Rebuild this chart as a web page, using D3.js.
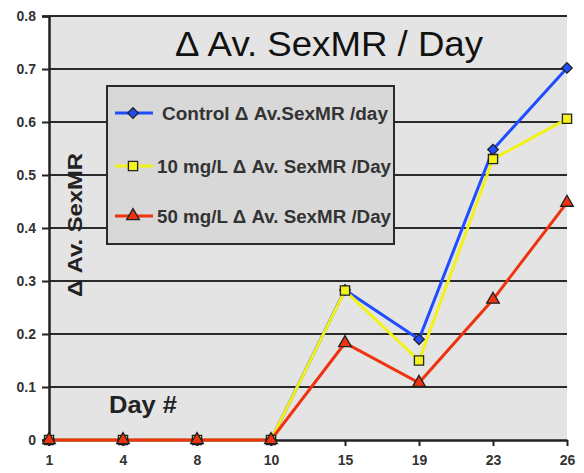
<!DOCTYPE html>
<html>
<head>
<meta charset="utf-8">
<script src="https://cdn.jsdelivr.net/npm/d3@7"></script>
<style>
  body { margin: 0; background: #fff; }
  svg { display: block; font-family: 'Liberation Sans', Arial, sans-serif; }
</style>
</head>
<body>
<svg width="584" height="473"></svg>
<script>
// data
const days = ['1', '4', '8', '10', '15', '19', '23', '26'];
const control = [0, 0, 0, 0, 0.283, 0.19, 0.548, 0.702];
const mg10 = [0, 0, 0, 0, 0.282, 0.15, 0.53, 0.606];
const mg50 = [0, 0, 0, 0, 0.183, 0.108, 0.265, 0.448];
const yTicks = [0, 0.1, 0.2, 0.3, 0.4, 0.5, 0.6, 0.7, 0.8];

const series = [
  { name: 'Control \u0394 Av.SexMR /day', values: control, color: '#1f4dff', marker: 'diamond' },
  { name: '10 mg/L \u0394 Av. SexMR /Day', values: mg10, color: '#f2f21a', marker: 'square' },
  { name: '50 mg/L \u0394 Av. SexMR /Day', values: mg50, color: '#ee3311', marker: 'triangle' },
];

const svg = d3.select('svg');
const plotLeft = 49, plotRight = 567, plotTop = 16, plotBottom = 440;

const x = d3.scalePoint().domain(days).range([plotLeft, plotRight]).padding(0);
const y = d3.scaleLinear().domain([0, 0.8]).range([plotBottom, plotTop]);

// plot background
svg.append('rect')
  .attr('x', plotLeft).attr('y', plotTop)
  .attr('width', plotRight - plotLeft).attr('height', plotBottom - plotTop)
  .attr('fill', '#e4e4e4');

// gridlines
svg.append('g').selectAll('line')
  .data(yTicks.filter(d => d > 0))
  .join('line')
  .attr('x1', plotLeft).attr('x2', plotRight)
  .attr('y1', d => y(d)).attr('y2', d => y(d))
  .attr('stroke', '#2a2a2a').attr('stroke-width', 2);

// axes
const yAxis = d3.axisLeft(y).tickValues(yTicks)
  .tickFormat(d => d === 0 ? '0' : d3.format('.1f')(d))
  .tickSize(7).tickPadding(6);
const yg = svg.append('g').attr('transform', `translate(${plotLeft},0)`).call(yAxis);
yg.select('.domain').attr('stroke', '#222').attr('stroke-width', 2.5);
yg.selectAll('.tick line').attr('stroke', '#222').attr('stroke-width', 2);
yg.selectAll('.tick text')
  .attr('font-size', 14).attr('font-weight', 'bold').attr('fill', '#333')
  .attr('font-family', "'Liberation Sans', Arial, sans-serif");

const xAxis = d3.axisBottom(x).tickSize(6).tickSizeOuter(0).tickPadding(9);
const xg = svg.append('g').attr('transform', `translate(0,${plotBottom})`).call(xAxis);
xg.select('.domain').attr('stroke', '#222').attr('stroke-width', 2.5);
xg.selectAll('.tick line').attr('stroke', '#222').attr('stroke-width', 2);
xg.selectAll('.tick text')
  .attr('font-size', 14).attr('font-weight', 'bold').attr('fill', '#333')
  .attr('font-family', "'Liberation Sans', Arial, sans-serif");

// diamond = square turned 45deg, like the original
const symbolFor = m => m === 'triangle' ? d3.symbolTriangle : d3.symbolSquare;
const sizeFor = m => m === 'diamond' ? 55 : m === 'square' ? 85 : 70;
const rotFor = m => m === 'diamond' ? ' rotate(45)' : '';

// lines + markers
const line = d3.line().x((d, i) => x(days[i])).y(d => y(d));
series.forEach(s => {
  svg.append('path')
    .datum(s.values)
    .attr('d', line)
    .attr('fill', 'none')
    .attr('stroke', s.color)
    .attr('stroke-width', 3);
});
series.forEach(s => {
  svg.append('g').selectAll('path')
    .data(s.values)
    .join('path')
    .attr('transform', (d, i) => `translate(${x(days[i])},${y(d)})${rotFor(s.marker)}`)
    .attr('d', d3.symbol().type(symbolFor(s.marker)).size(sizeFor(s.marker)))
    .attr('fill', s.color)
    .attr('stroke', '#222')
    .attr('stroke-width', 1.3);
});

// title
svg.append('text')
  .attr('x', 329).attr('y', 56)
  .attr('text-anchor', 'middle')
  .attr('font-size', 35)
  .attr('textLength', 308).attr('lengthAdjust', 'spacingAndGlyphs')
  .attr('fill', '#111')
  .text('\u0394 Av. SexMR / Day');

// axis labels
svg.append('text')
  .attr('transform', 'translate(82,225) rotate(-90)')
  .attr('text-anchor', 'middle')
  .attr('font-size', 21).attr('font-weight', 'bold').attr('fill', '#222')
  .attr('textLength', 144).attr('lengthAdjust', 'spacingAndGlyphs')
  .text('\u0394 Av. SexMR');
svg.append('text')
  .attr('x', 109).attr('y', 413)
  .attr('font-size', 24).attr('font-weight', 'bold').attr('fill', '#222')
  .attr('textLength', 68).attr('lengthAdjust', 'spacingAndGlyphs')
  .text('Day #');

// legend
const legend = svg.append('g');
legend.append('rect')
  .attr('x', 107).attr('y', 86).attr('width', 287).attr('height', 158)
  .attr('fill', '#d8d8d8').attr('stroke', '#2a2a2a').attr('stroke-width', 2);
const ly = [113, 166, 216];
const lx = [162, 157, 157];
const lw = [226, 234, 234];
series.forEach((s, i) => {
  const g = legend.append('g').attr('transform', `translate(0,${ly[i]})`);
  g.append('line').attr('x1', 115).attr('x2', 153)
    .attr('stroke', s.color).attr('stroke-width', 3);
  g.append('path')
    .attr('transform', `translate(133,0)${rotFor(s.marker)}`)
    .attr('d', d3.symbol().type(symbolFor(s.marker)).size(sizeFor(s.marker)))
    .attr('fill', s.color).attr('stroke', '#222').attr('stroke-width', 1.3);
  g.append('text')
    .attr('x', lx[i]).attr('y', 7)
    .attr('font-size', 18).attr('font-weight', 'bold').attr('fill', '#333')
    .attr('textLength', lw[i]).attr('lengthAdjust', 'spacingAndGlyphs')
    .text(s.name);
});
</script>
</body>
</html>
